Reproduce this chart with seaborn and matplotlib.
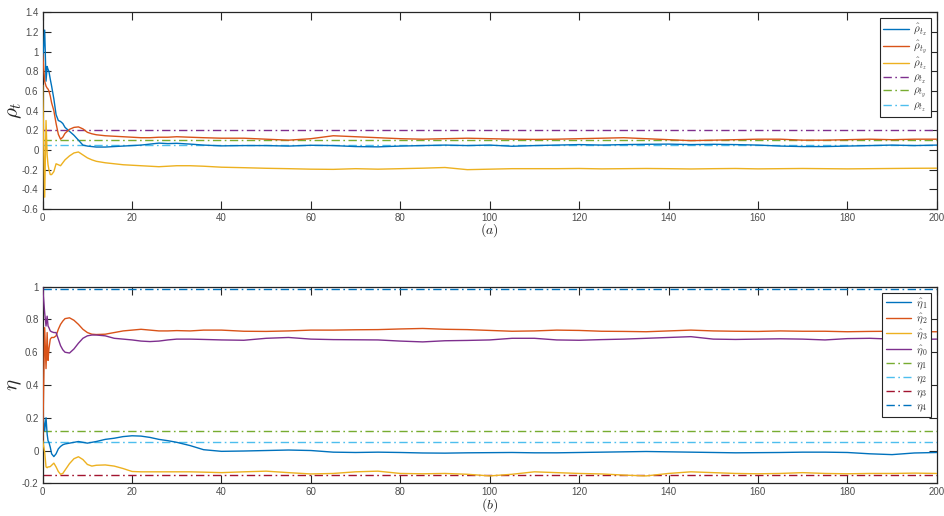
import numpy as np
import pandas as pd
import seaborn as sns
import matplotlib
matplotlib.use("Agg")
import matplotlib.pyplot as plt
from matplotlib.ticker import FuncFormatter

# ---- time samples (iteration index) ----
t = ([0, 0.45, 0.75, 1.0, 1.2, 1.4, 1.7, 2, 2.5, 3, 3.5, 4, 4.5, 5]
     + [6, 7, 8, 9, 10, 11, 12]
     + [14, 16, 18, 20, 22, 24, 26, 28, 30]
     + [33, 36]
     + list(range(40, 201, 5)))

# ---- panel (a): estimated correlation coefficients ----
rho_x_hat = ([0.90, 1.22, 0.70, 0.85, 0.82, 0.80, 0.72, 0.65, 0.52, 0.36, 0.30, 0.29, 0.27, 0.23]
             + [0.19, 0.15, 0.10, 0.05, 0.04, 0.035, 0.03]
             + [0.03, 0.035, 0.04, 0.045, 0.05, 0.06, 0.07, 0.065, 0.068]
             + [0.06, 0.05]
             + [0.042, 0.045, 0.045, 0.04, 0.048, 0.045, 0.035, 0.032, 0.04, 0.045, 0.05,
                0.045, 0.05, 0.038, 0.045, 0.05, 0.055, 0.05, 0.055, 0.058, 0.06, 0.055,
                0.058, 0.055, 0.05, 0.04, 0.035, 0.035, 0.04, 0.045, 0.05, 0.045, 0.05])
rho_y_hat = ([0.98, 0.70, 0.65, 0.63, 0.62, 0.60, 0.55, 0.48, 0.40, 0.27, 0.16, 0.11, 0.13, 0.17]
             + [0.21, 0.23, 0.235, 0.215, 0.18, 0.165, 0.155]
             + [0.145, 0.14, 0.135, 0.13, 0.125, 0.125, 0.13, 0.13, 0.135]
             + [0.13, 0.125]
             + [0.12, 0.12, 0.11, 0.10, 0.115, 0.145, 0.135, 0.125, 0.115, 0.11, 0.115,
                0.12, 0.115, 0.11, 0.108, 0.11, 0.115, 0.12, 0.125, 0.115, 0.105, 0.095,
                0.10, 0.105, 0.11, 0.11, 0.10, 0.10, 0.105, 0.11, 0.105, 0.11, 0.11])
rho_z_hat = ([0.66, -0.48, 0.30, -0.05, -0.15, -0.20, -0.25, -0.25, -0.22, -0.14, -0.15, -0.16, -0.13, -0.10]
             + [-0.06, -0.03, -0.02, -0.05, -0.08, -0.10, -0.115]
             + [-0.13, -0.14, -0.15, -0.155, -0.16, -0.165, -0.17, -0.165, -0.16]
             + [-0.16, -0.165]
             + [-0.175, -0.18, -0.186, -0.19, -0.195, -0.197, -0.19, -0.195, -0.19, -0.185, -0.178,
                -0.20, -0.195, -0.19, -0.19, -0.19, -0.188, -0.192, -0.19, -0.188, -0.19, -0.193,
                -0.19, -0.188, -0.192, -0.19, -0.188, -0.19, -0.192, -0.19, -0.188, -0.186, -0.185])
rho_true = [0.2, 0.1, 0.05]            # rho_tx, rho_ty, rho_tz

# ---- panel (b): estimated eta parameters ----
eta1_hat = ([0.25, 0.12, 0.20, 0.10, 0.06, 0.05, 0.02, -0.02, -0.037, -0.02, 0.01, 0.025, 0.035, 0.04]
            + [0.045, 0.05, 0.055, 0.05, 0.045, 0.05, 0.055]
            + [0.068, 0.075, 0.085, 0.09, 0.088, 0.08, 0.068, 0.06, 0.05]
            + [0.03, 0.005]
            + [-0.005, -0.003, 0.0, 0.003, 0.0, -0.01, -0.012, -0.01, -0.012, -0.015, -0.016,
               -0.014, -0.013, -0.012, -0.014, -0.014, -0.012, -0.01, -0.008, -0.006, -0.008, -0.01,
               -0.012, -0.014, -0.013, -0.012, -0.01, -0.01, -0.012, -0.02, -0.025, -0.015, -0.012])
eta2_hat = ([0.05, 0.75, 0.50, 0.72, 0.55, 0.62, 0.68, 0.69, 0.69, 0.70, 0.74, 0.77, 0.79, 0.805]
            + [0.81, 0.795, 0.77, 0.74, 0.72, 0.71, 0.708]
            + [0.71, 0.72, 0.73, 0.735, 0.74, 0.735, 0.73, 0.73, 0.732]
            + [0.73, 0.735]
            + [0.735, 0.728, 0.727, 0.73, 0.735, 0.735, 0.737, 0.738, 0.742, 0.745, 0.74,
               0.738, 0.733, 0.728, 0.73, 0.735, 0.733, 0.728, 0.727, 0.725, 0.73, 0.735,
               0.73, 0.728, 0.727, 0.73, 0.728, 0.728, 0.725, 0.727, 0.728, 0.725, 0.725])
eta3_hat = ([0.06, -0.01, -0.10, -0.105, -0.10, -0.10, -0.098, -0.09, -0.077, -0.10, -0.128, -0.145, -0.14, -0.12]
            + [-0.08, -0.05, -0.038, -0.055, -0.085, -0.095, -0.09]
            + [-0.088, -0.095, -0.11, -0.128, -0.13, -0.13, -0.13, -0.13, -0.13]
            + [-0.13, -0.132]
            + [-0.135, -0.13, -0.126, -0.135, -0.143, -0.14, -0.13, -0.126, -0.14, -0.142, -0.14,
               -0.145, -0.155, -0.145, -0.13, -0.135, -0.14, -0.143, -0.15, -0.155, -0.14, -0.13,
               -0.135, -0.14, -0.142, -0.14, -0.135, -0.14, -0.142, -0.14, -0.14, -0.138, -0.14])
eta0_hat = ([1.00, 0.84, 0.76, 0.82, 0.76, 0.75, 0.73, 0.725, 0.72, 0.72, 0.68, 0.64, 0.615, 0.60]
            + [0.595, 0.62, 0.655, 0.685, 0.70, 0.705, 0.705]
            + [0.70, 0.685, 0.68, 0.675, 0.668, 0.665, 0.668, 0.675, 0.68]
            + [0.68, 0.678]
            + [0.675, 0.673, 0.685, 0.69, 0.68, 0.677, 0.676, 0.675, 0.668, 0.663, 0.67,
               0.672, 0.675, 0.685, 0.685, 0.675, 0.673, 0.677, 0.68, 0.685, 0.69, 0.695,
               0.68, 0.678, 0.68, 0.682, 0.68, 0.675, 0.683, 0.685, 0.68, 0.678, 0.68])
eta_true = [0.12, 0.05, -0.15, 0.985]   # eta_1 .. eta_4

# MATLAB default colour order
C_BLUE, C_ORANGE, C_YELLOW = "#0072BD", "#D95319", "#EDB120"
C_PURPLE, C_GREEN, C_CYAN, C_RED = "#7E2F8E", "#77AC30", "#4DBEEE", "#A2142F"

sns.set_theme(style="ticks")
plt.rcParams["font.family"] = ["Liberation Sans", "DejaVu Sans"]
plt.rcParams["mathtext.fontset"] = "cm"

fig = plt.figure(figsize=(9.44, 5.16), dpi=100)
ax1 = fig.add_axes([0.0452, 0.595, 0.9471, 0.381])
ax2 = fig.add_axes([0.0452, 0.0634, 0.9471, 0.381])

DASHDOT = (6, 2.5, 1.2, 2.5)
LW = 1.0


def style_axis(ax, ylim, yticks):
    ax.set_xlim(0, 200)
    ax.set_ylim(*ylim)
    ax.set_xticks(np.arange(0, 201, 20))
    ax.set_yticks(yticks)
    fmt = FuncFormatter(lambda v, _: f"{round(v, 2):g}")
    ax.yaxis.set_major_formatter(fmt)
    ax.xaxis.set_major_formatter(fmt)
    ax.tick_params(direction="in", length=6, width=0.8, top=True, right=True,
                   labelsize=7, colors="#262626", labelcolor="#4d4d4d", pad=3)
    for s in ax.spines.values():
        s.set_visible(True)
        s.set_linewidth(0.9)
        s.set_color("#262626")
    ax.set_xlabel("")
    ax.yaxis.set_label_coords(-0.021, 0.5)


# ---- panel (a) ----
df_a = pd.DataFrame({"t": t, "rx": rho_x_hat, "ry": rho_y_hat, "rz": rho_z_hat})
sns.lineplot(data=df_a, x="t", y="rx", ax=ax1, color=C_BLUE, lw=LW, zorder=3, label=r"$\hat{\rho}_{t_x}$")
sns.lineplot(data=df_a, x="t", y="ry", ax=ax1, color=C_ORANGE, lw=LW, zorder=3, label=r"$\hat{\rho}_{t_y}$")
sns.lineplot(data=df_a, x="t", y="rz", ax=ax1, color=C_YELLOW, lw=LW, zorder=3, label=r"$\hat{\rho}_{t_z}$")
for val, col, lab in zip(rho_true, [C_PURPLE, C_GREEN, C_CYAN],
                         [r"$\rho_{t_x}$", r"$\rho_{t_y}$", r"$\rho_{t_z}$"]):
    ax1.axhline(val, color=col, lw=LW, dashes=DASHDOT, label=lab)
style_axis(ax1, (-0.6, 1.4), np.round(np.arange(-0.6, 1.41, 0.2), 1))
ax1.set_ylabel(r"$\rho_t$", fontsize=15)
ax1.text(0.5, -0.11, r"$(a)$", transform=ax1.transAxes, ha="center", va="center", fontsize=10)

# ---- panel (b) ----
df_b = pd.DataFrame({"t": t, "e1": eta1_hat, "e2": eta2_hat, "e3": eta3_hat, "e0": eta0_hat})
sns.lineplot(data=df_b, x="t", y="e1", ax=ax2, color=C_BLUE, lw=LW, zorder=3, label=r"$\hat{\eta}_1$")
sns.lineplot(data=df_b, x="t", y="e2", ax=ax2, color=C_ORANGE, lw=LW, zorder=3, label=r"$\hat{\eta}_2$")
sns.lineplot(data=df_b, x="t", y="e3", ax=ax2, color=C_YELLOW, lw=LW, zorder=3, label=r"$\hat{\eta}_3$")
sns.lineplot(data=df_b, x="t", y="e0", ax=ax2, color=C_PURPLE, lw=LW, zorder=3, label=r"$\hat{\eta}_0$")
for val, col, lab in zip(eta_true, [C_GREEN, C_CYAN, C_RED, C_BLUE],
                         [r"$\eta_1$", r"$\eta_2$", r"$\eta_3$", r"$\eta_4$"]):
    ax2.axhline(val, color=col, lw=LW, dashes=DASHDOT, label=lab)
style_axis(ax2, (-0.2, 1.0), np.round(np.arange(-0.2, 1.01, 0.2), 1))
ax2.set_ylabel(r"$\eta$", fontsize=15)
ax2.text(0.5, -0.11, r"$(b)$", transform=ax2.transAxes, ha="center", va="center", fontsize=10)

for ax, lsp in ((ax1, 0.02), (ax2, 0.12)):
    leg = ax.legend(loc="upper right", fontsize=8, frameon=True, fancybox=False,
                    handlelength=2.3, handletextpad=0.4, labelspacing=lsp,
                    borderpad=0.3, borderaxespad=0.55, framealpha=1)
    leg.get_frame().set_edgecolor("#262626")
    leg.get_frame().set_linewidth(0.8)
    leg.set_zorder(5)
    for txt in leg.get_texts():
        txt.set_color("#333333")

fig.savefig("out.png", dpi=100)
